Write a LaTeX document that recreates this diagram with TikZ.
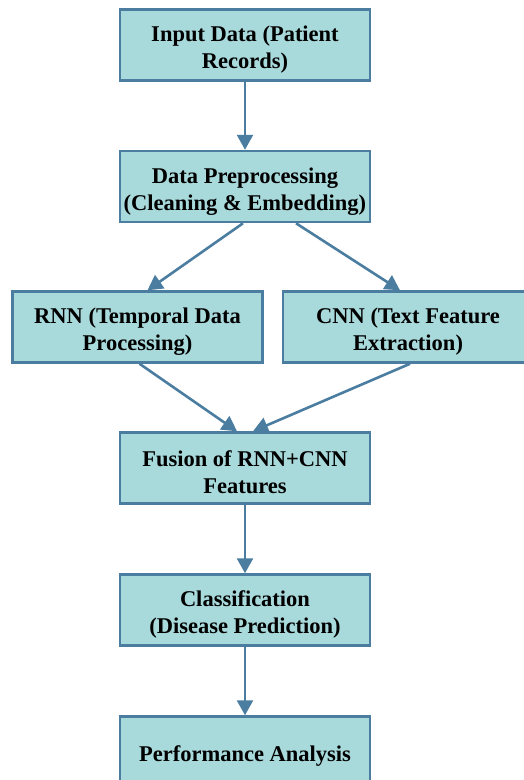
\documentclass[tikz,border=0pt]{standalone}
\usepackage{fontspec}
\setmainfont{Liberation Serif}
\usetikzlibrary{arrows.meta}
\definecolor{boxfill}{RGB}{168,217,219}
\definecolor{boxline}{RGB}{74,125,160}
\begin{document}
\begin{tikzpicture}[x=1pt,y=-1pt,
    stage/.style={draw=boxline,fill=boxfill,line width=2.5pt,minimum width=250pt,minimum height=71pt,
        align=center,font=\fontsize{22.5}{27}\selectfont\bfseries,text height=52pt},
    flow/.style={draw=boxline,line width=2.6pt,-{Triangle[width=16pt,length=15pt]}}]
    \useasboundingbox (0,0) rectangle (524,780);
    \node[stage] (input) at (245,45) {Input Data (Patient\\Records)};
    \node[stage] (prep) at (245,186.5) {Data Preprocessing\\(Cleaning \& Embedding)};
    \node[stage] (rnn) at (137.5,327) {RNN (Temporal Data\\Processing)};
    \node[stage] (cnn) at (408,327) {CNN (Text Feature\\Extraction)};
    \node[stage] (fusion) at (245,468) {Fusion of RNN+CNN\\Features};
    \node[stage] (cls) at (245,610) {Classification\\(Disease Prediction)};
    \node[stage,text height=24pt] (perf) at (245,752) {Performance Analysis};
    % arrows between the stages
    \draw[flow] (input) -- (prep);
    \draw[flow] ([xshift=-2pt]prep.south) -- ([xshift=10pt]rnn.north);
    \draw[flow] ([xshift=51pt]prep.south) -- ([xshift=-8pt]cnn.north);
    \draw[flow] ([xshift=2pt]rnn.south) -- ([xshift=-8pt]fusion.north);
    \draw[flow] ([xshift=2pt]cnn.south) -- ([xshift=8pt]fusion.north);
    \draw[flow] (fusion) -- (cls);
    \draw[flow] (cls) -- (perf);
\end{tikzpicture}
\end{document}
